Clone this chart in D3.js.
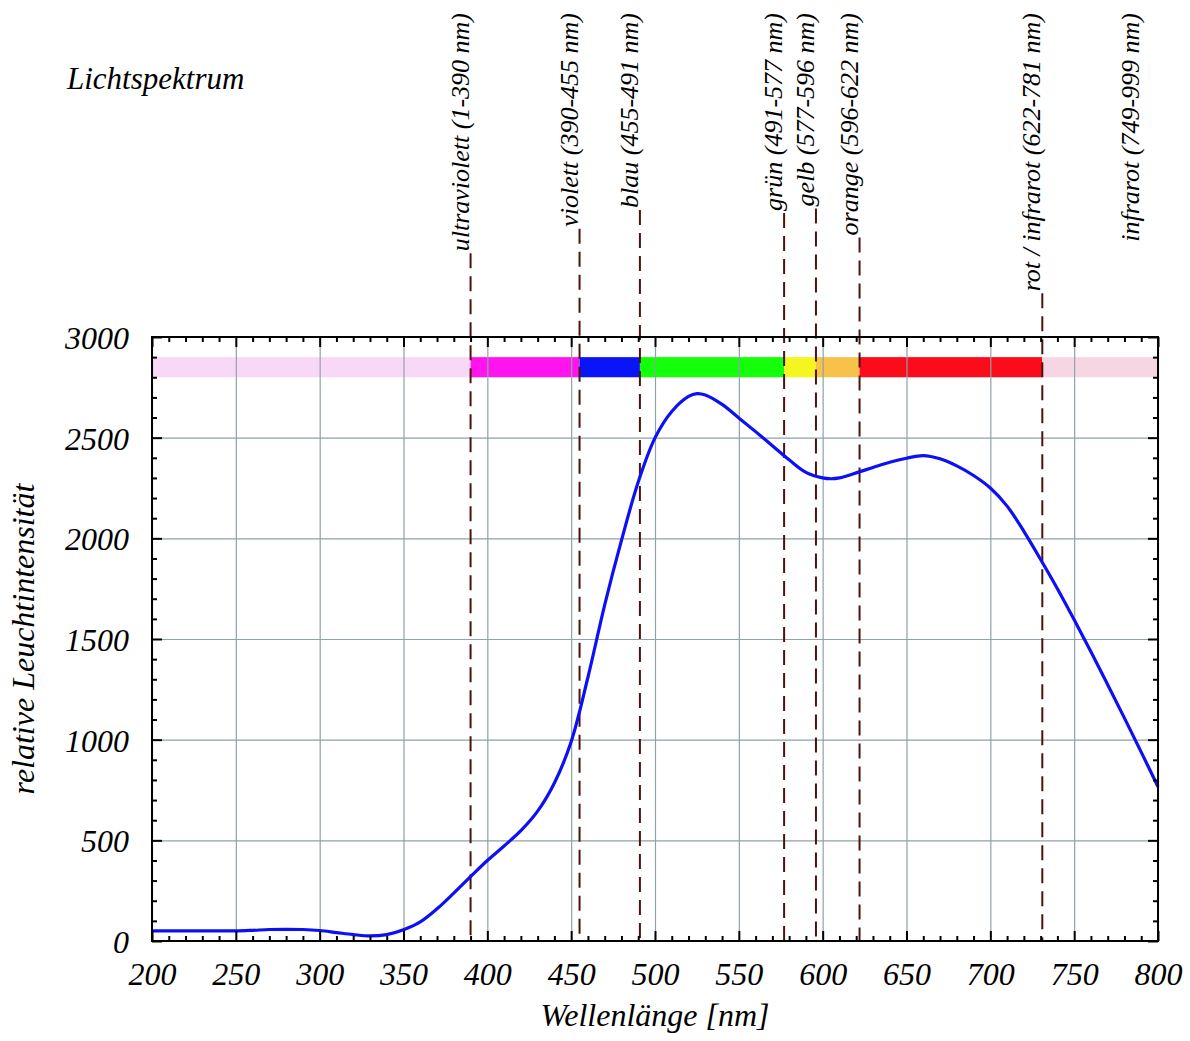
<!DOCTYPE html>
<html>
<head>
<meta charset="utf-8">
<script src="https://cdn.jsdelivr.net/npm/d3@7"></script>
<style>
body { margin: 0; background: #fff; }
text { font-family: "Liberation Serif", "Times New Roman", serif; font-style: italic; fill: #000; }
</style>
</head>
<body>
<div id="spektrum"></div>
<script>
// data
const wavelength = [200, 210, 220, 230, 240, 250, 260, 270, 280, 290, 300, 310, 320, 330, 340, 350, 360, 370, 380, 390,
  400, 410, 420, 430, 440, 450, 460, 470, 480, 490, 500, 510, 520, 525, 530, 540, 550, 560, 570, 580, 590,
  600, 605, 610, 620, 630, 640, 650, 660, 670, 680, 690, 700, 710, 720, 730, 740, 750, 760, 770, 780, 790, 800];
const intensity = [50, 50, 50, 50, 50, 50, 53, 57, 58, 57, 52, 42, 32, 25, 32, 56, 95, 160, 238, 320,
  400, 472, 548, 645, 785, 990, 1310, 1670, 1990, 2280, 2499, 2630, 2705, 2719, 2712, 2665, 2598, 2530, 2460, 2390, 2328,
  2300, 2296, 2300, 2325, 2352, 2378, 2398, 2411, 2395, 2360, 2312, 2250, 2160, 2035, 1895, 1750, 1596, 1437, 1273, 1107, 938, 766];

const bandFrom = [200, 390, 455, 491, 577, 596, 622, 731];
const bandTo = [390, 455, 491, 577, 596, 622, 731, 800];
const bandColor = ["#f9d7f7", "#ff14ee", "#0a14f8", "#14ff0a", "#f5f520", "#f8c24a", "#fc0c1a", "#f7d6e4"];
const bandLow = 2800, bandHigh = 2900;

const markerName = ["ultraviolett (1-390 nm)", "violett (390-455 nm)", "blau (455-491 nm)", "grün (491-577 nm)",
  "gelb (577-596 nm)", "orange (596-622 nm)", "rot / infrarot (622-781 nm)", "infrarot (749-999 nm)"];
const markerAt = [390, 455, 491, 577, 596, 622, 731, 790];
const markerLine = [true, true, true, true, true, true, true, false];

const xMajor = [200, 250, 300, 350, 400, 450, 500, 550, 600, 650, 700, 750, 800];
const yMajor = [0, 500, 1000, 1500, 2000, 2500, 3000];

// set the dimensions and margins of the graph
const margin = {top: 337, right: 32, bottom: 100, left: 152},
  width = 1190 - margin.left - margin.right,
  height = 1041 - margin.top - margin.bottom;

const svg = d3.select("#spektrum")
  .append("svg")
  .attr("width", 1190)
  .attr("height", 1041);

const g = svg.append("g")
  .attr("transform", `translate(${margin.left},${margin.top})`);

const x = d3.scaleLinear().domain([200, 800]).range([0, width]);
const y = d3.scaleLinear().domain([0, 3000]).range([height, 0]);

// colour bar
g.selectAll("rect.band")
  .data(bandFrom)
  .join("rect")
  .attr("class", "band")
  .attr("x", d => x(d))
  .attr("width", (d, i) => x(bandTo[i]) - x(d))
  .attr("y", y(bandHigh))
  .attr("height", y(bandLow) - y(bandHigh))
  .attr("fill", (d, i) => bandColor[i]);

// grid
g.append("g")
  .call(d3.axisBottom(x).tickValues(xMajor).tickSize(height).tickFormat(""))
  .call(a => a.select(".domain").remove())
  .selectAll("line").attr("stroke", "#8ea2a8").attr("stroke-width", 1.2);
g.append("g")
  .call(d3.axisRight(y).tickValues(yMajor).tickSize(width).tickFormat(""))
  .call(a => a.select(".domain").remove())
  .selectAll("line").attr("stroke", "#8ea2a8").attr("stroke-width", 1.2);

// band labels and dashed lines
const lab = g.selectAll("g.marker")
  .data(markerAt)
  .join("g")
  .attr("class", "marker");

lab.append("text")
  .attr("transform", d => `translate(${x(d) - 2},${13 - margin.top}) rotate(-90)`)
  .attr("text-anchor", "end")
  .style("font-size", "26px")
  .text((d, i) => markerName[i]);

lab.each(function (d, i) {
  if (!markerLine[i]) return;
  const len = d3.select(this).select("text").node().getComputedTextLength();
  d3.select(this).insert("line", "text")
    .attr("x1", x(d)).attr("x2", x(d))
    .attr("y1", 13 - margin.top + len + 2)
    .attr("y2", height)
    .attr("stroke", "#4a140e")
    .attr("stroke-width", 2)
    .attr("stroke-dasharray", "15,8");
});

// the curve
const line = d3.line()
  .x(d => x(d[0]))
  .y(d => y(d[1]))
  .curve(d3.curveCatmullRom.alpha(0.5));

g.append("path")
  .datum(wavelength.map((w, i) => [w, intensity[i]]))
  .attr("fill", "none")
  .attr("stroke", "#0d10f5")
  .attr("stroke-width", 3.2)
  .attr("d", line);

// frame and inward ticks
const xMinor = d3.range(200, 801, 10).filter(v => v % 50 !== 0);
const yMinor = d3.range(0, 3001, 100).filter(v => v % 500 !== 0);

function tickAxis(axis, vals, size, tr) {
  const a = g.append("g")
    .attr("transform", tr)
    .call(axis.tickValues(vals).tickSize(size).tickFormat(""));
  a.select(".domain").remove();
  a.selectAll("line").attr("stroke", "#000").attr("stroke-width", 2);
}
tickAxis(d3.axisBottom(x), xMajor, -10, `translate(0,${height})`);
tickAxis(d3.axisBottom(x), xMinor, -5, `translate(0,${height})`);
tickAxis(d3.axisTop(x), xMajor, -10, "translate(0,0)");
tickAxis(d3.axisTop(x), xMinor, -5, "translate(0,0)");
tickAxis(d3.axisLeft(y), yMajor, -10, "translate(0,0)");
tickAxis(d3.axisLeft(y), yMinor, -5, "translate(0,0)");
tickAxis(d3.axisRight(y), yMajor, -10, `translate(${width},0)`);
tickAxis(d3.axisRight(y), yMinor, -5, `translate(${width},0)`);

g.append("rect")
  .attr("width", width)
  .attr("height", height)
  .attr("fill", "none")
  .attr("stroke", "#000")
  .attr("stroke-width", 2);

// tick labels
const xAxis = g.append("g")
  .attr("transform", `translate(0,${height})`)
  .call(d3.axisBottom(x).tickValues(xMajor).tickSize(0).tickPadding(21).tickFormat(d3.format("d")));
xAxis.select(".domain").remove();
xAxis.selectAll("text").style("font-size", "32px").attr("font-family", null);

const yAxis = g.append("g")
  .call(d3.axisLeft(y).tickValues(yMajor).tickSize(0).tickPadding(23).tickFormat(d3.format("d")));
yAxis.select(".domain").remove();
yAxis.selectAll("text").style("font-size", "32px").attr("dy", "0.36em").attr("font-family", null);

// titles
svg.append("text")
  .attr("x", 67)
  .attr("y", 89)
  .style("font-size", "31px")
  .text("Lichtspektrum");

svg.append("text")
  .attr("x", margin.left + width / 2)
  .attr("y", 1026)
  .attr("text-anchor", "middle")
  .style("font-size", "32px")
  .text("Wellenlänge [nm]");

svg.append("text")
  .attr("transform", `translate(34,${margin.top + height / 2}) rotate(-90)`)
  .attr("text-anchor", "middle")
  .style("font-size", "32px")
  .text("relative Leuchtintensität");
</script>
</body>
</html>
